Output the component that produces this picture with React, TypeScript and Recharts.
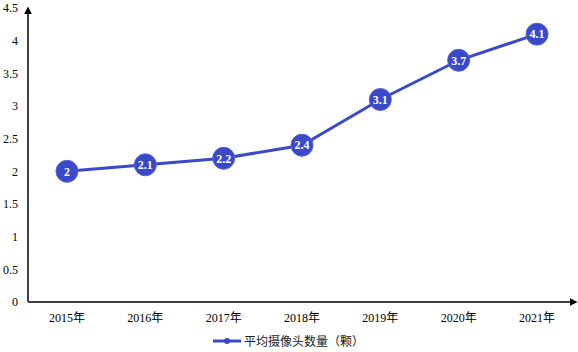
import React from "react";
import {
  LineChart,
  Line,
  XAxis,
  YAxis,
  Legend,
  LabelList,
} from "recharts";

const years = ["2015年", "2016年", "2017年", "2018年", "2019年", "2020年", "2021年"];
const cameraCounts = [2, 2.1, 2.2, 2.4, 3.1, 3.7, 4.1];
const yTicks = [0, 0.5, 1, 1.5, 2, 2.5, 3, 3.5, 4, 4.5];

const seriesName = "平均摄像头数量（颗）";
const BLUE = "#3a49c9";
const AXIS = "#404040";
const FONT = "\"Times New Roman\", \"Liberation Serif\", \"DejaVu Serif\", \"Noto Sans CJK SC\", serif";

const data = years.map((year, i) => ({ year, value: cameraCounts[i] }));

const tickStyle = { fill: "#000", fontSize: 12, fontFamily: FONT };

// legend: line with a dot, then the text
const renderLegend = () => (
  <div
    style={{
      display: "flex",
      justifyContent: "center",
      alignItems: "center",
      fontFamily: FONT,
      fontSize: 12,
      color: "#222",
    }}
  >
    <svg width={30} height={10} style={{ marginRight: 2 }}>
      <line x1={1} y1={5} x2={29} y2={5} stroke={BLUE} strokeWidth={3} />
      <circle cx={15} cy={5} r={3} fill={BLUE} />
    </svg>
    <span>{seriesName}</span>
  </div>
);

export default function App() {
  return (
    <div style={{ position: "absolute", left: 0, top: 0, fontFamily: FONT }}>
      <LineChart
        width={578}
        height={352}
        data={data}
        style={{ fontFamily: FONT }}
        margin={{ top: 8, right: 2, left: 0, bottom: 0 }}
      >
        <defs>
          <marker
            id="axisArrow"
            viewBox="0 0 10 10"
            refX="8"
            refY="5"
            markerWidth="4"
            markerHeight="4"
            orient="auto-start-reverse"
          >
            <path d="M0,0 L10,5 L0,10 z" fill="#000" />
          </marker>
        </defs>
        <XAxis
          dataKey="year"
          height={30}
          padding={{ left: 39, right: 39 }}
          tickLine={false}
          tickSize={0}
          tickMargin={11}
          tick={tickStyle}
          axisLine={{ stroke: AXIS, strokeWidth: 2, markerEnd: "url(#axisArrow)" }}
        />
        <YAxis
          width={28}
          domain={[0, 4.5]}
          ticks={yTicks}
          interval={0}
          tickLine={false}
          tickSize={0}
          tickMargin={10}
          tick={tickStyle}
          axisLine={{ stroke: AXIS, strokeWidth: 2, markerStart: "url(#axisArrow)" }}
        />
        <Legend verticalAlign="bottom" height={20} content={renderLegend} />
        <Line
          type="linear"
          dataKey="value"
          name={seriesName}
          stroke={BLUE}
          strokeWidth={3}
          dot={{ r: 11, fill: BLUE, stroke: "#5563d6", strokeWidth: 1 }}
          activeDot={false}
          isAnimationActive={false}
        >
          <LabelList
            dataKey="value"
            position="center"
            fill="#fff"
            fontSize={12}
            fontWeight="bold"
            fontFamily={FONT}
          />
        </Line>
      </LineChart>
    </div>
  );
}
